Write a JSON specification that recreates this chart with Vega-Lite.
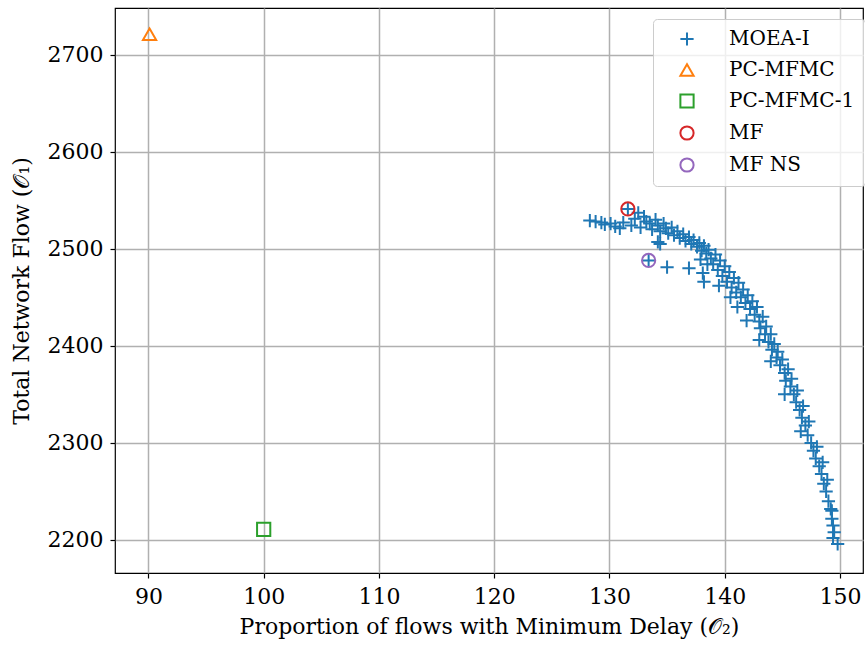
{
  "$schema": "https://vega.github.io/schema/vega-lite/v6.json",
  "autosize": "none",
  "width": 748,
  "height": 565,
  "padding": {"left": 115, "top": 8, "right": 2, "bottom": 73},
  "background": "white",
  "config": {
    "font": "DejaVu Serif",
    "view": {"stroke": "black", "strokeWidth": 1.2},
    "axis": {
      "labelFont": "DejaVu Serif", "titleFont": "DejaVu Serif",
      "labelFontSize": 22, "titleFontSize": 22, "titleFontWeight": "normal",
      "labelColor": "black", "titleColor": "black",
      "tickColor": "black", "tickSize": 5, "tickWidth": 1.2,
      "domain": false,
      "gridColor": "#b0b0b0", "gridWidth": 1.5, "gridOpacity": 1
    },
    "legend": {"labelFont": "DejaVu Serif", "labelFontSize": 20}
  },
  "data": {
    "values": [
      {"x": 128.3, "y": 2529, "series": "MOEA-I"},
      {"x": 128.8, "y": 2528, "series": "MOEA-I"},
      {"x": 129.3, "y": 2527, "series": "MOEA-I"},
      {"x": 129.6, "y": 2525, "series": "MOEA-I"},
      {"x": 130.1, "y": 2526, "series": "MOEA-I"},
      {"x": 130.5, "y": 2523, "series": "MOEA-I"},
      {"x": 130.9, "y": 2521, "series": "MOEA-I"},
      {"x": 131.2, "y": 2527, "series": "MOEA-I"},
      {"x": 131.6, "y": 2541, "series": "MOEA-I"},
      {"x": 133.4, "y": 2488, "series": "MOEA-I"},
      {"x": 131.9, "y": 2524, "series": "MOEA-I"},
      {"x": 132.2, "y": 2531, "series": "MOEA-I"},
      {"x": 132.5, "y": 2537, "series": "MOEA-I"},
      {"x": 132.7, "y": 2522, "series": "MOEA-I"},
      {"x": 133.0, "y": 2533, "series": "MOEA-I"},
      {"x": 133.2, "y": 2528, "series": "MOEA-I"},
      {"x": 133.5, "y": 2526, "series": "MOEA-I"},
      {"x": 133.7, "y": 2520, "series": "MOEA-I"},
      {"x": 134.0, "y": 2530, "series": "MOEA-I"},
      {"x": 134.2, "y": 2524, "series": "MOEA-I"},
      {"x": 134.4, "y": 2518, "series": "MOEA-I"},
      {"x": 134.7, "y": 2526, "series": "MOEA-I"},
      {"x": 134.9, "y": 2521, "series": "MOEA-I"},
      {"x": 135.1, "y": 2516, "series": "MOEA-I"},
      {"x": 135.4, "y": 2522, "series": "MOEA-I"},
      {"x": 135.6, "y": 2514, "series": "MOEA-I"},
      {"x": 135.9, "y": 2518, "series": "MOEA-I"},
      {"x": 136.1, "y": 2511, "series": "MOEA-I"},
      {"x": 136.4, "y": 2515, "series": "MOEA-I"},
      {"x": 136.6, "y": 2508, "series": "MOEA-I"},
      {"x": 136.9, "y": 2512, "series": "MOEA-I"},
      {"x": 137.1, "y": 2505, "series": "MOEA-I"},
      {"x": 137.3, "y": 2509, "series": "MOEA-I"},
      {"x": 137.6, "y": 2502, "series": "MOEA-I"},
      {"x": 137.8, "y": 2506, "series": "MOEA-I"},
      {"x": 138.0, "y": 2498, "series": "MOEA-I"},
      {"x": 138.2, "y": 2503, "series": "MOEA-I"},
      {"x": 138.4, "y": 2495, "series": "MOEA-I"},
      {"x": 138.6, "y": 2499, "series": "MOEA-I"},
      {"x": 134.2, "y": 2507, "series": "MOEA-I"},
      {"x": 134.4, "y": 2505, "series": "MOEA-I"},
      {"x": 135.0, "y": 2481, "series": "MOEA-I"},
      {"x": 136.9, "y": 2480, "series": "MOEA-I"},
      {"x": 138.1, "y": 2475, "series": "MOEA-I"},
      {"x": 138.2, "y": 2466, "series": "MOEA-I"},
      {"x": 137.9, "y": 2489, "series": "MOEA-I"},
      {"x": 138.5, "y": 2484, "series": "MOEA-I"},
      {"x": 138.8, "y": 2490, "series": "MOEA-I"},
      {"x": 139.0, "y": 2484, "series": "MOEA-I"},
      {"x": 139.2, "y": 2494, "series": "MOEA-I"},
      {"x": 139.4, "y": 2478, "series": "MOEA-I"},
      {"x": 139.6, "y": 2488, "series": "MOEA-I"},
      {"x": 139.8, "y": 2472, "series": "MOEA-I"},
      {"x": 139.5, "y": 2462, "series": "MOEA-I"},
      {"x": 140.0, "y": 2482, "series": "MOEA-I"},
      {"x": 140.2, "y": 2466, "series": "MOEA-I"},
      {"x": 140.4, "y": 2476, "series": "MOEA-I"},
      {"x": 140.6, "y": 2460, "series": "MOEA-I"},
      {"x": 140.5, "y": 2450, "series": "MOEA-I"},
      {"x": 140.8, "y": 2470, "series": "MOEA-I"},
      {"x": 141.0, "y": 2455, "series": "MOEA-I"},
      {"x": 141.2, "y": 2465, "series": "MOEA-I"},
      {"x": 141.4, "y": 2450, "series": "MOEA-I"},
      {"x": 141.1, "y": 2440, "series": "MOEA-I"},
      {"x": 141.6, "y": 2458, "series": "MOEA-I"},
      {"x": 141.8, "y": 2444, "series": "MOEA-I"},
      {"x": 142.0, "y": 2452, "series": "MOEA-I"},
      {"x": 142.2, "y": 2438, "series": "MOEA-I"},
      {"x": 141.9, "y": 2426, "series": "MOEA-I"},
      {"x": 142.4, "y": 2446, "series": "MOEA-I"},
      {"x": 142.6, "y": 2432, "series": "MOEA-I"},
      {"x": 142.8, "y": 2440, "series": "MOEA-I"},
      {"x": 143.0, "y": 2425, "series": "MOEA-I"},
      {"x": 143.1, "y": 2418, "series": "MOEA-I"},
      {"x": 143.3, "y": 2430, "series": "MOEA-I"},
      {"x": 143.5, "y": 2412, "series": "MOEA-I"},
      {"x": 143.0, "y": 2406, "series": "MOEA-I"},
      {"x": 143.6, "y": 2420, "series": "MOEA-I"},
      {"x": 143.8, "y": 2404, "series": "MOEA-I"},
      {"x": 144.0, "y": 2412, "series": "MOEA-I"},
      {"x": 144.1, "y": 2396, "series": "MOEA-I"},
      {"x": 144.3, "y": 2402, "series": "MOEA-I"},
      {"x": 144.5, "y": 2388, "series": "MOEA-I"},
      {"x": 144.0, "y": 2384, "series": "MOEA-I"},
      {"x": 144.6, "y": 2394, "series": "MOEA-I"},
      {"x": 144.8, "y": 2380, "series": "MOEA-I"},
      {"x": 145.0, "y": 2386, "series": "MOEA-I"},
      {"x": 145.2, "y": 2372, "series": "MOEA-I"},
      {"x": 145.3, "y": 2364, "series": "MOEA-I"},
      {"x": 145.5, "y": 2376, "series": "MOEA-I"},
      {"x": 145.7, "y": 2358, "series": "MOEA-I"},
      {"x": 145.2, "y": 2350, "series": "MOEA-I"},
      {"x": 145.8, "y": 2366, "series": "MOEA-I"},
      {"x": 146.0, "y": 2350, "series": "MOEA-I"},
      {"x": 146.2, "y": 2342, "series": "MOEA-I"},
      {"x": 146.3, "y": 2354, "series": "MOEA-I"},
      {"x": 146.5, "y": 2334, "series": "MOEA-I"},
      {"x": 146.7, "y": 2326, "series": "MOEA-I"},
      {"x": 146.8, "y": 2338, "series": "MOEA-I"},
      {"x": 147.0, "y": 2318, "series": "MOEA-I"},
      {"x": 146.6, "y": 2312, "series": "MOEA-I"},
      {"x": 147.2, "y": 2308, "series": "MOEA-I"},
      {"x": 147.3, "y": 2322, "series": "MOEA-I"},
      {"x": 147.5, "y": 2300, "series": "MOEA-I"},
      {"x": 147.7, "y": 2292, "series": "MOEA-I"},
      {"x": 147.9, "y": 2284, "series": "MOEA-I"},
      {"x": 148.0, "y": 2296, "series": "MOEA-I"},
      {"x": 148.2, "y": 2276, "series": "MOEA-I"},
      {"x": 148.4, "y": 2268, "series": "MOEA-I"},
      {"x": 148.5, "y": 2280, "series": "MOEA-I"},
      {"x": 148.6, "y": 2258, "series": "MOEA-I"},
      {"x": 148.8, "y": 2250, "series": "MOEA-I"},
      {"x": 148.9, "y": 2262, "series": "MOEA-I"},
      {"x": 149.0, "y": 2240, "series": "MOEA-I"},
      {"x": 149.2, "y": 2232, "series": "MOEA-I"},
      {"x": 149.3, "y": 2222, "series": "MOEA-I"},
      {"x": 149.4, "y": 2215, "series": "MOEA-I"},
      {"x": 149.5, "y": 2208, "series": "MOEA-I"},
      {"x": 149.4, "y": 2202, "series": "MOEA-I"},
      {"x": 149.8, "y": 2196, "series": "MOEA-I"},
      {"x": 149.3, "y": 2230, "series": "MOEA-I"},
      {"x": 90.1, "y": 2721, "series": "PC-MFMC"},
      {"x": 100.0, "y": 2211, "series": "PC-MFMC-1"},
      {"x": 131.6, "y": 2541, "series": "MF"},
      {"x": 133.4, "y": 2488, "series": "MF NS"}
    ]
  },
  "mark": {"type": "point", "filled": false, "strokeWidth": 2, "size": 175, "opacity": 1},
  "encoding": {
    "x": {
      "field": "x", "type": "quantitative",
      "scale": {"domain": [87.1, 152.0], "nice": false, "zero": false},
      "axis": {"values": [90, 100, 110, 120, 130, 140, 150], "labelPadding": 8, "titlePadding": 9,
               "title": "Proportion of flows with Minimum Delay (𝒪₂)"}
    },
    "y": {
      "field": "y", "type": "quantitative",
      "scale": {"domain": [2166, 2748], "nice": false, "zero": false},
      "axis": {"values": [2200, 2300, 2400, 2500, 2600, 2700], "format": "d", "labelPadding": 7, "titlePadding": 14,
               "title": "Total Network Flow (𝒪₁)"}
    },
    "color": {
      "field": "series", "type": "nominal",
      "scale": {"domain": ["MOEA-I", "PC-MFMC", "PC-MFMC-1", "MF", "MF NS"],
                "range": ["#1f77b4", "#ff7f0e", "#2ca02c", "#d62728", "#9467bd"]},
      "legend": {
        "title": null, "orient": "none", "legendX": 538, "legendY": 11,
        "fillColor": "rgba(255,255,255,0.8)", "strokeColor": "#cccccc", "cornerRadius": 4,
        "padding": 10, "symbolOffset": 14, "labelOffset": 32, "rowPadding": 10,
        "symbolSize": 175, "symbolStrokeWidth": 2
      }
    },
    "shape": {
      "field": "series", "type": "nominal",
      "scale": {"domain": ["MOEA-I", "PC-MFMC", "PC-MFMC-1", "MF", "MF NS"],
                "range": ["M-1,0H1M0,-1V1", "triangle-up", "square", "circle", "circle"]},
      "legend": null
    }
  }
}
